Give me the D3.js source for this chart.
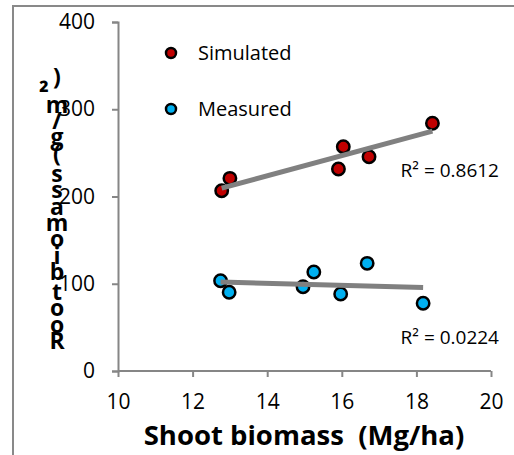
<!DOCTYPE html>
<html lang="en">
  <head>
    <meta charset="UTF-8" />
    <title>Root biomass vs shoot biomass</title>
    <style>
      body { margin: 0; background: #fff; }
      svg text { font-family: "Open Sans", sans-serif; fill: #000; }
    </style>
  </head>
  <body>
    <script src="https://cdn.jsdelivr.net/npm/d3@7"></script>
    <div id="app"></div>
    <script>
      // data
      const simX = [12.78, 13.0, 15.91, 16.04, 16.73, 18.43];
      const simY = [206.6, 220.8, 231.5, 257.0, 245.6, 283.9];
      const meaX = [12.75, 12.98, 14.96, 15.25, 15.97, 16.68, 18.18];
      const meaY = [103.5, 90.2, 96.6, 113.5, 88.3, 123.4, 77.6];
      const xTicks = [10, 12, 14, 16, 18, 20];
      const yTicks = [0, 100, 200, 300, 400];
      const seriesNames = ["Simulated", "Measured"];
      const r2Labels = ["R\u00b2 = 0.8612", "R\u00b2 = 0.0224"];

      const w = 514, h = 455;
      const svg = d3.select("#app").append("svg")
        .attr("width", w).attr("height", h);

      // outer chart frame (cropped on the right and bottom)
      svg.append("path")
        .attr("d", "M13,456 L13,6 L515,6")
        .attr("fill", "none").attr("stroke", "#898989").attr("stroke-width", 2);

      const xScale = d3.scaleLinear().domain([10, 20]).range([118, 491]);
      const yScale = d3.scaleLinear().domain([0, 400]).range([371, 22]);

      const xAxis = d3.axisBottom(xScale).tickValues(xTicks).tickSizeOuter(0).tickSize(6).tickPadding(17);
      const yAxis = d3.axisLeft(yScale).tickValues(yTicks).tickSizeOuter(0).tickSize(6).tickPadding(17);

      const gx = svg.append("g").attr("transform", "translate(0," + yScale(0) + ")").call(xAxis);
      const gy = svg.append("g").attr("transform", "translate(" + xScale(10) + ",0)").call(yAxis);
      [gx, gy].forEach(g => {
        g.selectAll("path, line").attr("stroke", "#868686").attr("stroke-width", 2);
        g.selectAll("text").attr("font-size", 21).attr("font-family", "'Open Sans', sans-serif").attr("fill", "#000");
      });
      gx.select(".domain").attr("d", "M" + xScale(10) + ",0H" + xScale(20));

      // least squares trend
      const fit = (xs, ys) => {
        const mx = d3.mean(xs), my = d3.mean(ys);
        const sxy = d3.sum(xs, (x, i) => (x - mx) * (ys[i] - my));
        const sxx = d3.sum(xs, x => (x - mx) * (x - mx));
        const b = sxy / sxx;
        const x0 = d3.min(xs), x1 = d3.max(xs);
        return [[x0, my + b * (x0 - mx)], [x1, my + b * (x1 - mx)]];
      };
      const line = d3.line().x(d => xScale(d[0])).y(d => yScale(d[1]));

      const series = [
        { xs: simX, ys: simY, color: "#C00000" },
        { xs: meaX, ys: meaY, color: "#00B0F0" }
      ];

      series.forEach(s => {
        svg.append("g").selectAll("circle")
          .data(s.xs.map((x, i) => [x, s.ys[i]]))
          .enter().append("circle")
          .attr("cx", d => xScale(d[0]))
          .attr("cy", d => yScale(d[1]))
          .attr("r", 6.2)
          .attr("fill", s.color)
          .attr("stroke", "#000")
          .attr("stroke-width", 2.5);
      });
      series.forEach(s => {
        svg.append("path")
          .attr("d", line(fit(s.xs, s.ys)))
          .attr("fill", "none")
          .attr("stroke", "#808080")
          .attr("stroke-width", 5);
      });

      // R² labels
      svg.append("text").attr("x", 499).attr("y", 177).attr("text-anchor", "end")
        .attr("font-size", 19).text(r2Labels[0]);
      svg.append("text").attr("x", 499).attr("y", 344).attr("text-anchor", "end")
        .attr("font-size", 19).text(r2Labels[1]);

      // legend
      const legend = svg.append("g");
      series.forEach((s, i) => {
        const y = 53 + i * 56;
        legend.append("circle").attr("cx", 171).attr("cy", y).attr("r", 5)
          .attr("fill", s.color).attr("stroke", "#000").attr("stroke-width", 2.5);
        legend.append("text").attr("x", 198).attr("y", y + 7)
          .attr("font-size", 20).text(seriesNames[i]);
      });

      // x title
      svg.append("text")
        .attr("x", 304).attr("y", 445)
        .attr("text-anchor", "middle")
        .attr("font-size", 27.5).attr("font-weight", "bold")
        .attr("xml:space", "preserve")
        .text("Shoot biomass  (Mg/ha)");

      // y title: characters stacked bottom to top (as in the source chart)
      const yTitle = Array.from("Root biomass (g/m\u00b2)");
      const yt = svg.append("g");
      let yPos = 349;
      yTitle.forEach(c => {
        if (c === " ") { yPos -= 4; return; }
        const isSup = c === "\u00b2";
        yt.append("text")
          .attr("x", isSup ? 44 : 57)
          .attr("y", isSup ? yPos + 6 : yPos)
          .attr("text-anchor", "middle")
          .attr("font-size", isSup ? 26 : 23)
          .attr("font-weight", "bold")
          .text(c);
        yPos -= isSup ? 12 : 16.3;
      });
    </script>
  </body>
</html>
